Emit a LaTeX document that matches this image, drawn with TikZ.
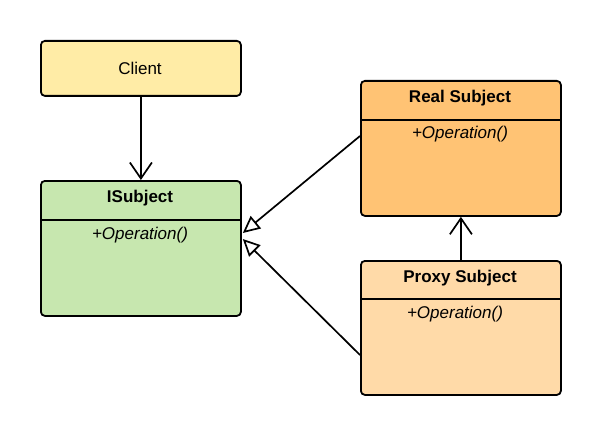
\documentclass[tikz,border=0pt]{standalone}
\usepackage{fontspec}
\setmainfont{Liberation Sans}
\usetikzlibrary{arrows.meta,calc}
\definecolor{clientfill}{HTML}{FFECA6}
\definecolor{isubfill}{HTML}{C7E7AF}
\definecolor{realfill}{HTML}{FFC374}
\definecolor{proxyfill}{HTML}{FFDAA8}
\begin{document}
\begin{tikzpicture}[x=1pt,y=-1pt,
  box/.style={draw=black,line width=1.8pt,rounded corners=4pt,minimum width=200pt,anchor=north west,inner sep=0pt},
  title/.style={font=\fontsize{17}{20}\selectfont\bfseries},
  oper/.style={font=\fontsize{17}{20}\selectfont\itshape},
  plain/.style={font=\fontsize{17}{20}\selectfont},
  divider/.style={line width=1.8pt},
  link/.style={line width=1.7pt},
  assoc/.style={link,-{Straight Barb[length=16pt,width=22pt,line width=1.7pt]}},
  inherit/.style={link,-{Triangle[open,length=17pt,width=16pt,line width=1.7pt]}}]
\useasboundingbox (0,0) rectangle (600,436);
\node[box,fill=clientfill,minimum height=55pt] (client) at (40,40) {};
\node[plain] (clientt) at (140,68) {Client};
\node[box,fill=isubfill,minimum height=135pt] (isub) at (40,180) {};
\node[title] (isubt) at (140,198) {ISubject};
\draw[divider] (isub.west |- 0,220) -- (isub.east |- 0,220);
\node[oper] (isubo) at (140,235) {+Operation()};
\node[box,fill=realfill,minimum height=135pt] (real) at (360,80) {};
\node[title] (realt) at (460,98) {Real Subject};
\draw[divider] (real.west |- 0,120) -- (real.east |- 0,120);
\node[oper] (realo) at (460,134) {+Operation()};
\node[box,fill=proxyfill,minimum height=134pt] (proxy) at (360,260) {};
\node[title] (proxyt) at (460,278) {Proxy Subject};
\draw[divider] (proxy.west |- 0,299) -- (proxy.east |- 0,299);
\node[oper] (proxyo) at (455,314) {+Operation()};
\draw[assoc] (client.south) -- (isub.north);
\draw[inherit] ($(real.north west)+(0,56)$) -- ($(isub.north east)+(1,53)$);
\draw[inherit] ($(proxy.north west)+(0,95)$) -- ($(isub.north east)+(1,59)$);
\draw[assoc] (proxy.north) -- (real.south);
\end{tikzpicture}
\end{document}
